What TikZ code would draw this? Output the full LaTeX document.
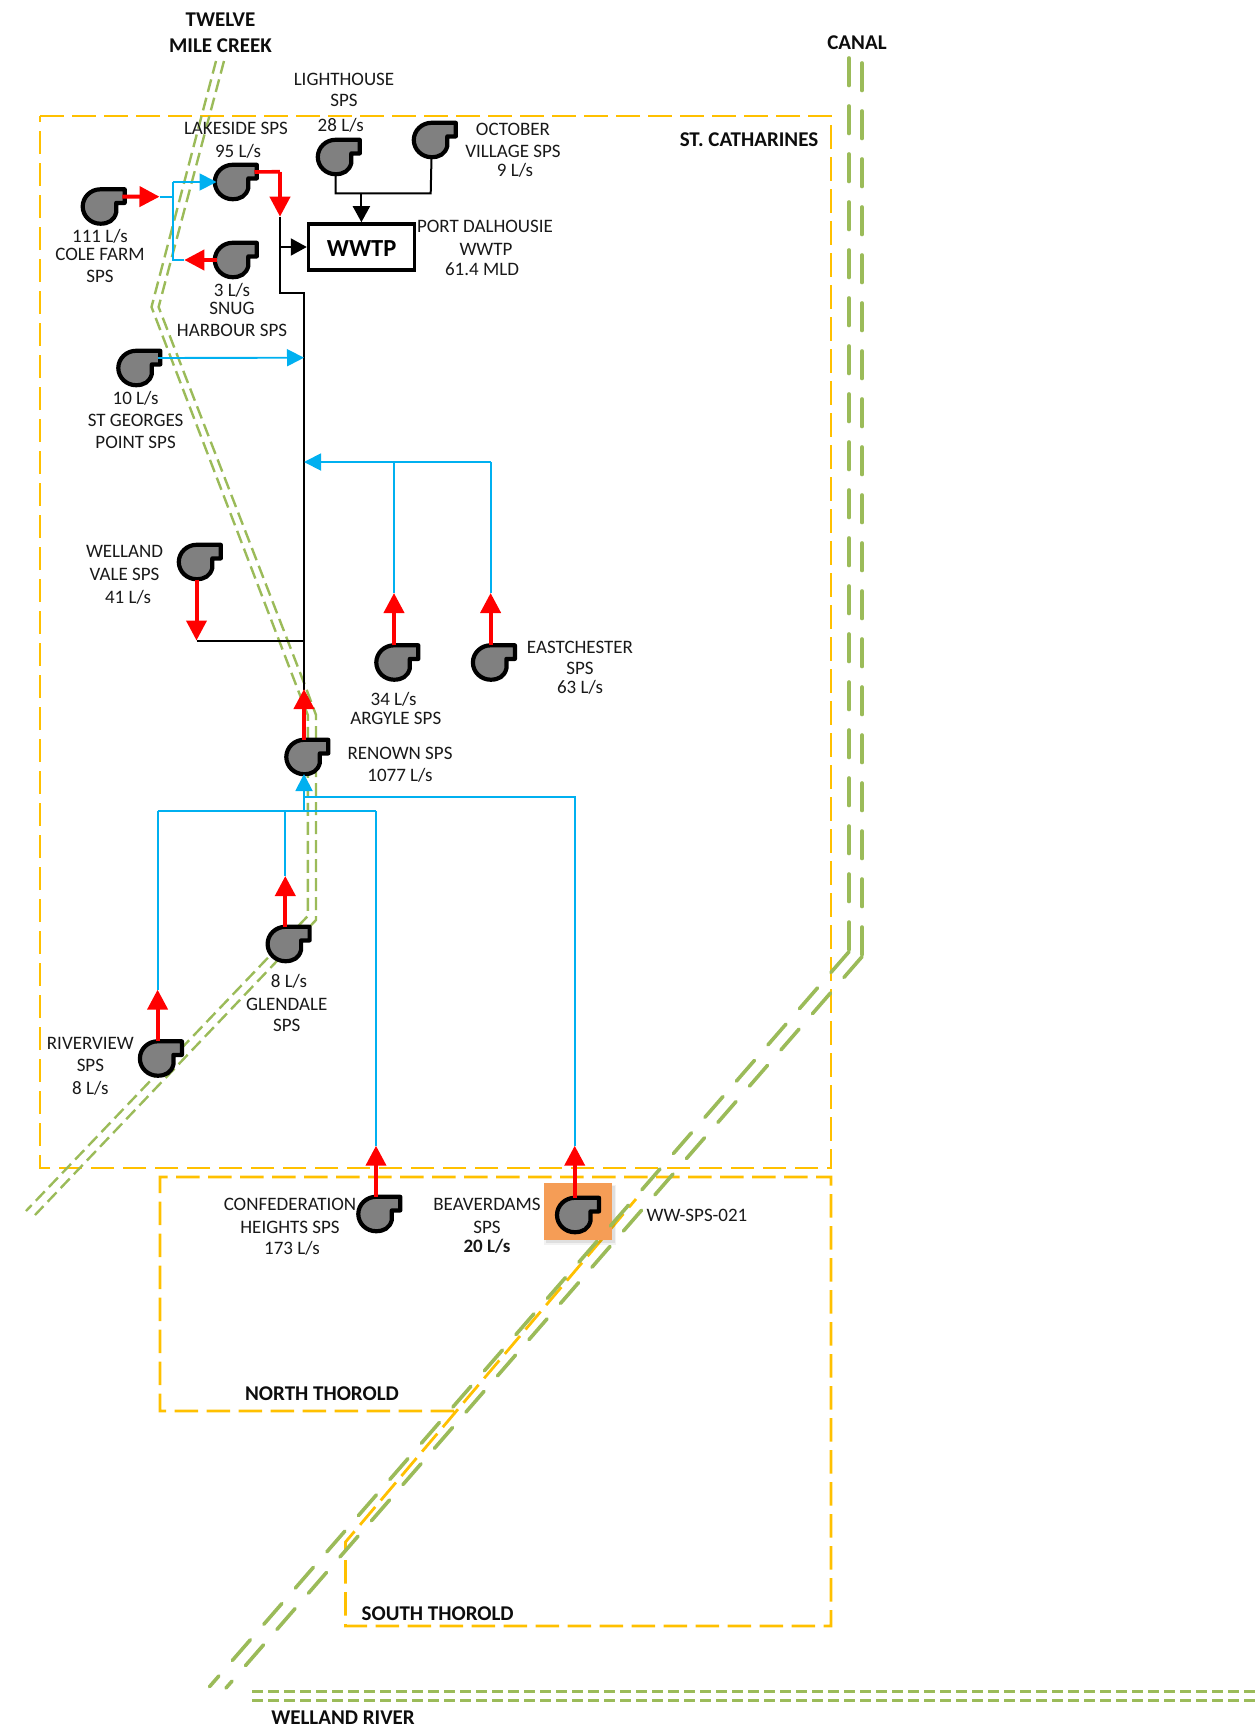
\documentclass[tikz,border=0pt]{standalone}
\usepackage{fontspec}
\setmainfont{Carlito}
\usetikzlibrary{arrows.meta}
\definecolor{bnd}{HTML}{FFC000}
\definecolor{riv}{HTML}{9BBB59}
\definecolor{flow}{HTML}{00B0F0}
\definecolor{hot}{HTML}{FF0000}
\definecolor{pumpgray}{HTML}{808080}
\definecolor{orangebox}{HTML}{F59D56}
\tikzset{
  boundary/.style={draw=bnd,line width=2.8pt,dash pattern=on 23.5pt off 8.5pt},
  canal/.style={draw=riv,line width=3.6pt,line cap=round,dash pattern=on 27.5pt off 20.5pt},
  creek/.style={draw=riv,line width=2.4pt,dash pattern=on 13pt off 6pt},
  river/.style={draw=riv,line width=2.8pt,dash pattern=on 11pt off 5pt},
  bluearrow/.style={draw=flow,line width=1.9pt,-{Triangle[length=17pt,width=17pt]}},
  blueline/.style={draw=flow,line width=1.9pt},
  redarrow/.style={draw=hot,line width=4pt,-{Triangle[length=20pt,width=20pt]}},
  redline/.style={draw=hot,line width=3.6pt},
  blackarrow/.style={draw=black,line width=2pt,-{Triangle[length=16pt,width=17pt]}},
  blackline/.style={draw=black,line width=2pt},
  pumpbody/.style={circle,minimum size=35pt,inner sep=0pt,outer sep=0pt},
  pumpshape/.style={draw=black,fill=pumpgray,line width=4.2pt,line join=round},
  lbl/.style={inner sep=0pt,font=\fontsize{19}{20}\selectfont,text=black!90},
  blbl/.style={inner sep=0pt,font=\fontsize{21}{22}\selectfont\bfseries,text=black!95},
  wwtpbox/.style={draw=black,line width=3.6pt,minimum width=106pt,minimum height=46pt,inner sep=0pt},
  wwtptext/.style={inner sep=0pt,font=\fontsize{24.5}{28}\selectfont\bfseries},
}
\newcommand{\pumpat}[3]{%
  \node[pumpbody] (#1) at (#2,#3) {};
  \coordinate (#1-out) at (#2+22,#3-10);
  \coordinate (#1-left) at (#2-16,#3);
  \draw[pumpshape,shift={(#2,#3)}] (0,-17.2) .. controls (-9.6,-17.2) and (-17.7,-9.6) .. (-17.7,0)
    .. controls (-17.7,9.6) and (-9.6,17.2) .. (0,17.2)
    .. controls (8,17.2) and (13.8,14) .. (15.8,6) -- (15.8,-3.6) -- (24.3,-3.6) -- (24.3,-17.2) -- cycle;
}
\begin{document}
\begin{tikzpicture}[x=1pt,y=-1pt]
\useasboundingbox (0,0) rectangle (1258,1729);
% boundaries
\coordinate (sc1) at (40,116);
\coordinate (sc2) at (831,116);
\coordinate (sc3) at (831,1168);
\coordinate (sc4) at (40,1168);
\draw[boundary] (sc1) -- (sc2) -- (sc3) -- (sc4) -- cycle;
\coordinate (th1) at (160,1411);
\coordinate (th2) at (160,1177);
\coordinate (th3) at (831,1177);
\coordinate (th4) at (831,1626);
\coordinate (th5) at (345.5,1626);
\coordinate (th6) at (345.5,1542);
\coordinate (th7) at (636,1199);
\coordinate (th8) at (454,1411);
\draw[boundary] (th8) -- (th1) -- (th2) -- (th3) -- (th4) -- (th5) -- (th6) -- (th7);
% orange highlight
\fill[black,opacity=.05] (544,1185) rectangle (616,1245);
\fill[black,opacity=.08] (546,1186) rectangle (614.5,1243);
\fill[orangebox] (544,1182.7) rectangle (612.3,1240);
% rivers
\coordinate (ca1) at (849,58);
\coordinate (ca2) at (849,951.7);
\coordinate (ca3) at (209.5,1686.7);
\coordinate (cb1) at (862,63);
\coordinate (cb2) at (862,956.7);
\coordinate (cb3) at (226,1688);
\draw[canal] (ca1) -- (ca2);
\draw[canal] (ca2) -- (ca3);
\draw[canal] (cb1) -- (cb2);
\draw[canal] (cb2) -- (cb3);
\coordinate (wr1) at (252,1691.3);
\coordinate (wr2) at (1258,1691.3);
\coordinate (wr3) at (252,1700.3);
\coordinate (wr4) at (1258,1700.3);
\draw[river] (wr1) -- (wr2);
\draw[river] (wr3) -- (wr4);
\draw[creek] (216,61) -- (151.5,307) -- (298,690) -- (307.8,715) -- (307.8,916) -- (26,1211);
\draw[creek] (224,61) -- (158.6,307) -- (306,688) -- (316,715) -- (316,920) -- (35,1215);
% pumps
\pumpat{cole}{100.4}{206.5}
\pumpat{lakeside}{232.5}{182}
\pumpat{snug}{232.5}{260}
\pumpat{lighthouse}{335.5}{157}
\pumpat{october}{431.5}{140}
\pumpat{stgeorges}{136}{368}
\pumpat{wellandv}{196.5}{562}
\pumpat{argyle}{394}{662.5}
\pumpat{eastch}{490.6}{662.5}
\pumpat{renown}{304}{757}
\pumpat{glendale}{285.3}{944}
\pumpat{riverview}{157.6}{1058.5}
\pumpat{confed}{376}{1214}
\pumpat{beaver}{574.7}{1215}
% WWTP
\node[wwtpbox] (wwtp) at (361.6,247) {};
\node[wwtptext] (wwtpname) at (361.6,249) {WWTP};
% junction coordinates
\coordinate (jA) at (173,196.7);
\coordinate (jB) at (173,182);
\coordinate (jC) at (173,260);
\coordinate (coleTip) at (159.5,196.7);
\coordinate (snugTip) at (184.3,260);
\coordinate (lakeC) at (280,171.7);
\coordinate (lakeTip) at (280,216.7);
\coordinate (mainA) at (280,293.3);
\coordinate (mainB) at (304,293.3);
\coordinate (mainEnd) at (304,690);
\coordinate (wwBr) at (280,247);
\coordinate (lh1) at (335,193.3);
\coordinate (lh2) at (430.7,193.3);
\coordinate (lh3) at (361.4,193.3);
\coordinate (sgTip) at (304,357.7);
\coordinate (topA) at (394,462);
\coordinate (topB) at (490.6,462);
\coordinate (topTip) at (304,462);
\coordinate (argTip) at (394,593);
\coordinate (eastTip) at (490.6,593);
\coordinate (wvTip) at (196.5,640.5);
\coordinate (wvJ) at (304,640.5);
\coordinate (renTip) at (304,689);
\coordinate (renIn) at (304,774);
\coordinate (hA) at (157.6,811);
\coordinate (hB) at (285.3,811);
\coordinate (hC) at (304,811);
\coordinate (hD) at (376,811);
\coordinate (hE) at (304,796.7);
\coordinate (hF) at (574.7,796.7);
\coordinate (rvTip) at (157.6,989.6);
\coordinate (glTip) at (285.3,876);
\coordinate (cfTip) at (376,1145.7);
\coordinate (bdTip) at (574.7,1145.7);
% black network
\draw[blackline] (lakeTip) -- (mainA) -- (mainB) -- (mainEnd);
\draw[blackarrow] (wwBr) -- (wwtp.west);
\draw[blackline] (lighthouse.south) |- (lh2) -- (october.south);
\draw[blackarrow] (lh3) -- (wwtp.north -| lh3);
\draw[blackline] (wvTip) -- (wvJ);
% blue network
\draw[blueline] (coleTip) -- (jA);
\draw[blueline] (jB) -- (jC) -- (snugTip);
\draw[bluearrow] (jB) -- (lakeside-left);
\draw[bluearrow] (stgeorges-out) -- (sgTip);
\draw[bluearrow] (topB) -- (topTip);
\draw[blueline] (topA) -- (argTip);
\draw[blueline] (topB) -- (eastTip);
\draw[blueline] (hA) -- (hD);
\draw[blueline] (hA) -- (rvTip);
\draw[blueline] (hB) -- (glTip);
\draw[blueline] (hD) -- (cfTip);
\draw[blueline] (hE) -- (hF) -- (bdTip);
\draw[bluearrow] (hC) -- (renIn);
% red arrows
\draw[redarrow] (cole-out) -- (coleTip);
\draw[redarrow] (snug-left) -- (snugTip);
\draw[redline] (lakeside-out) -- (lakeC);
\draw[redarrow] (lakeC) -- (lakeTip);
\draw[redarrow] (wellandv.south) -- (wvTip);
\draw[redarrow] (argyle.north) -- (argTip);
\draw[redarrow] (eastch.north) -- (eastTip);
\draw[redarrow] (renown.north) -- (renTip);
\draw[redarrow] (glendale.north) -- (glTip);
\draw[redarrow] (riverview.north) -- (rvTip);
\draw[redarrow] (confed.north) -- (cfTip);
\draw[redarrow] (beaver.north) -- (bdTip);
% labels
\node[blbl] (t1) at (220.5,20) {TWELVE};
\node[blbl] (t2) at (220.5,46) {MILE CREEK};
\node[blbl] (t3) at (857,43) {CANAL};
\node[blbl] (t4) at (749,140) {ST. CATHARINES};
\node[blbl] (t5) at (322,1393.5) {NORTH THOROLD};
\node[blbl] (t6) at (437.7,1614) {SOUTH THOROLD};
\node[blbl] (t7) at (343,1718) {WELLAND RIVER};
\node[lbl] (l1) at (344,79) {LIGHTHOUSE};
\node[lbl] (l2) at (344,100) {SPS};
\node[lbl] (l3) at (340.7,125) {28 L/s};
\node[lbl] (k1) at (236,128) {LAKESIDE SPS};
\node[lbl] (k2) at (238,151) {95 L/s};
\node[lbl] (o1) at (513,129) {OCTOBER};
\node[lbl] (o2) at (513,151) {VILLAGE SPS};
\node[lbl] (o3) at (515,170) {9 L/s};
\node[lbl] (p1) at (485,226) {PORT DALHOUSIE};
\node[lbl] (p2) at (486,249) {WWTP};
\node[lbl] (p3) at (482,269) {61.4 MLD};
\node[lbl] (c1) at (100,236) {111 L/s};
\node[lbl] (c2) at (100,254) {COLE FARM};
\node[lbl] (c3) at (100,276) {SPS};
\node[lbl] (s1) at (232,290) {3 L/s};
\node[lbl] (s2) at (232,308.5) {SNUG};
\node[lbl] (s3) at (232,330) {HARBOUR SPS};
\node[lbl] (g1) at (135.6,398) {10 L/s};
\node[lbl] (g2) at (135.6,420) {ST GEORGES};
\node[lbl] (g3) at (135.6,442) {POINT SPS};
\node[lbl] (w1) at (124.6,551) {WELLAND};
\node[lbl] (w2) at (124.6,574) {VALE SPS};
\node[lbl] (w3) at (128,597) {41 L/s};
\node[lbl] (a1) at (393.6,699) {34 L/s};
\node[lbl] (a2) at (395.8,718) {ARGYLE SPS};
\node[lbl] (e1) at (580,647) {EASTCHESTER};
\node[lbl] (e2) at (580,668) {SPS};
\node[lbl] (e3) at (580,687) {63 L/s};
\node[lbl] (r1) at (400,753) {RENOWN SPS};
\node[lbl] (r2) at (400,775) {1077 L/s};
\node[lbl] (d1) at (289,981) {8 L/s};
\node[lbl] (d2) at (286.7,1004.5) {GLENDALE};
\node[lbl] (d3) at (286.7,1025.5) {SPS};
\node[lbl] (v1) at (90.4,1043) {RIVERVIEW};
\node[lbl] (v2) at (90.4,1065) {SPS};
\node[lbl] (v3) at (90.4,1088) {8 L/s};
\node[lbl] (f1) at (290,1204) {CONFEDERATION};
\node[lbl] (f2) at (290,1227) {HEIGHTS SPS};
\node[lbl] (f3) at (292,1248) {173 L/s};
\node[lbl] (b1) at (487,1204) {BEAVERDAMS};
\node[lbl] (b2) at (487,1227) {SPS};
\node[lbl,font=\fontsize{19}{20}\selectfont\bfseries] (b3) at (487,1246) {20 L/s};
\node[lbl] (b4) at (697,1215) {WW-SPS-021};
\end{tikzpicture}
\end{document}
